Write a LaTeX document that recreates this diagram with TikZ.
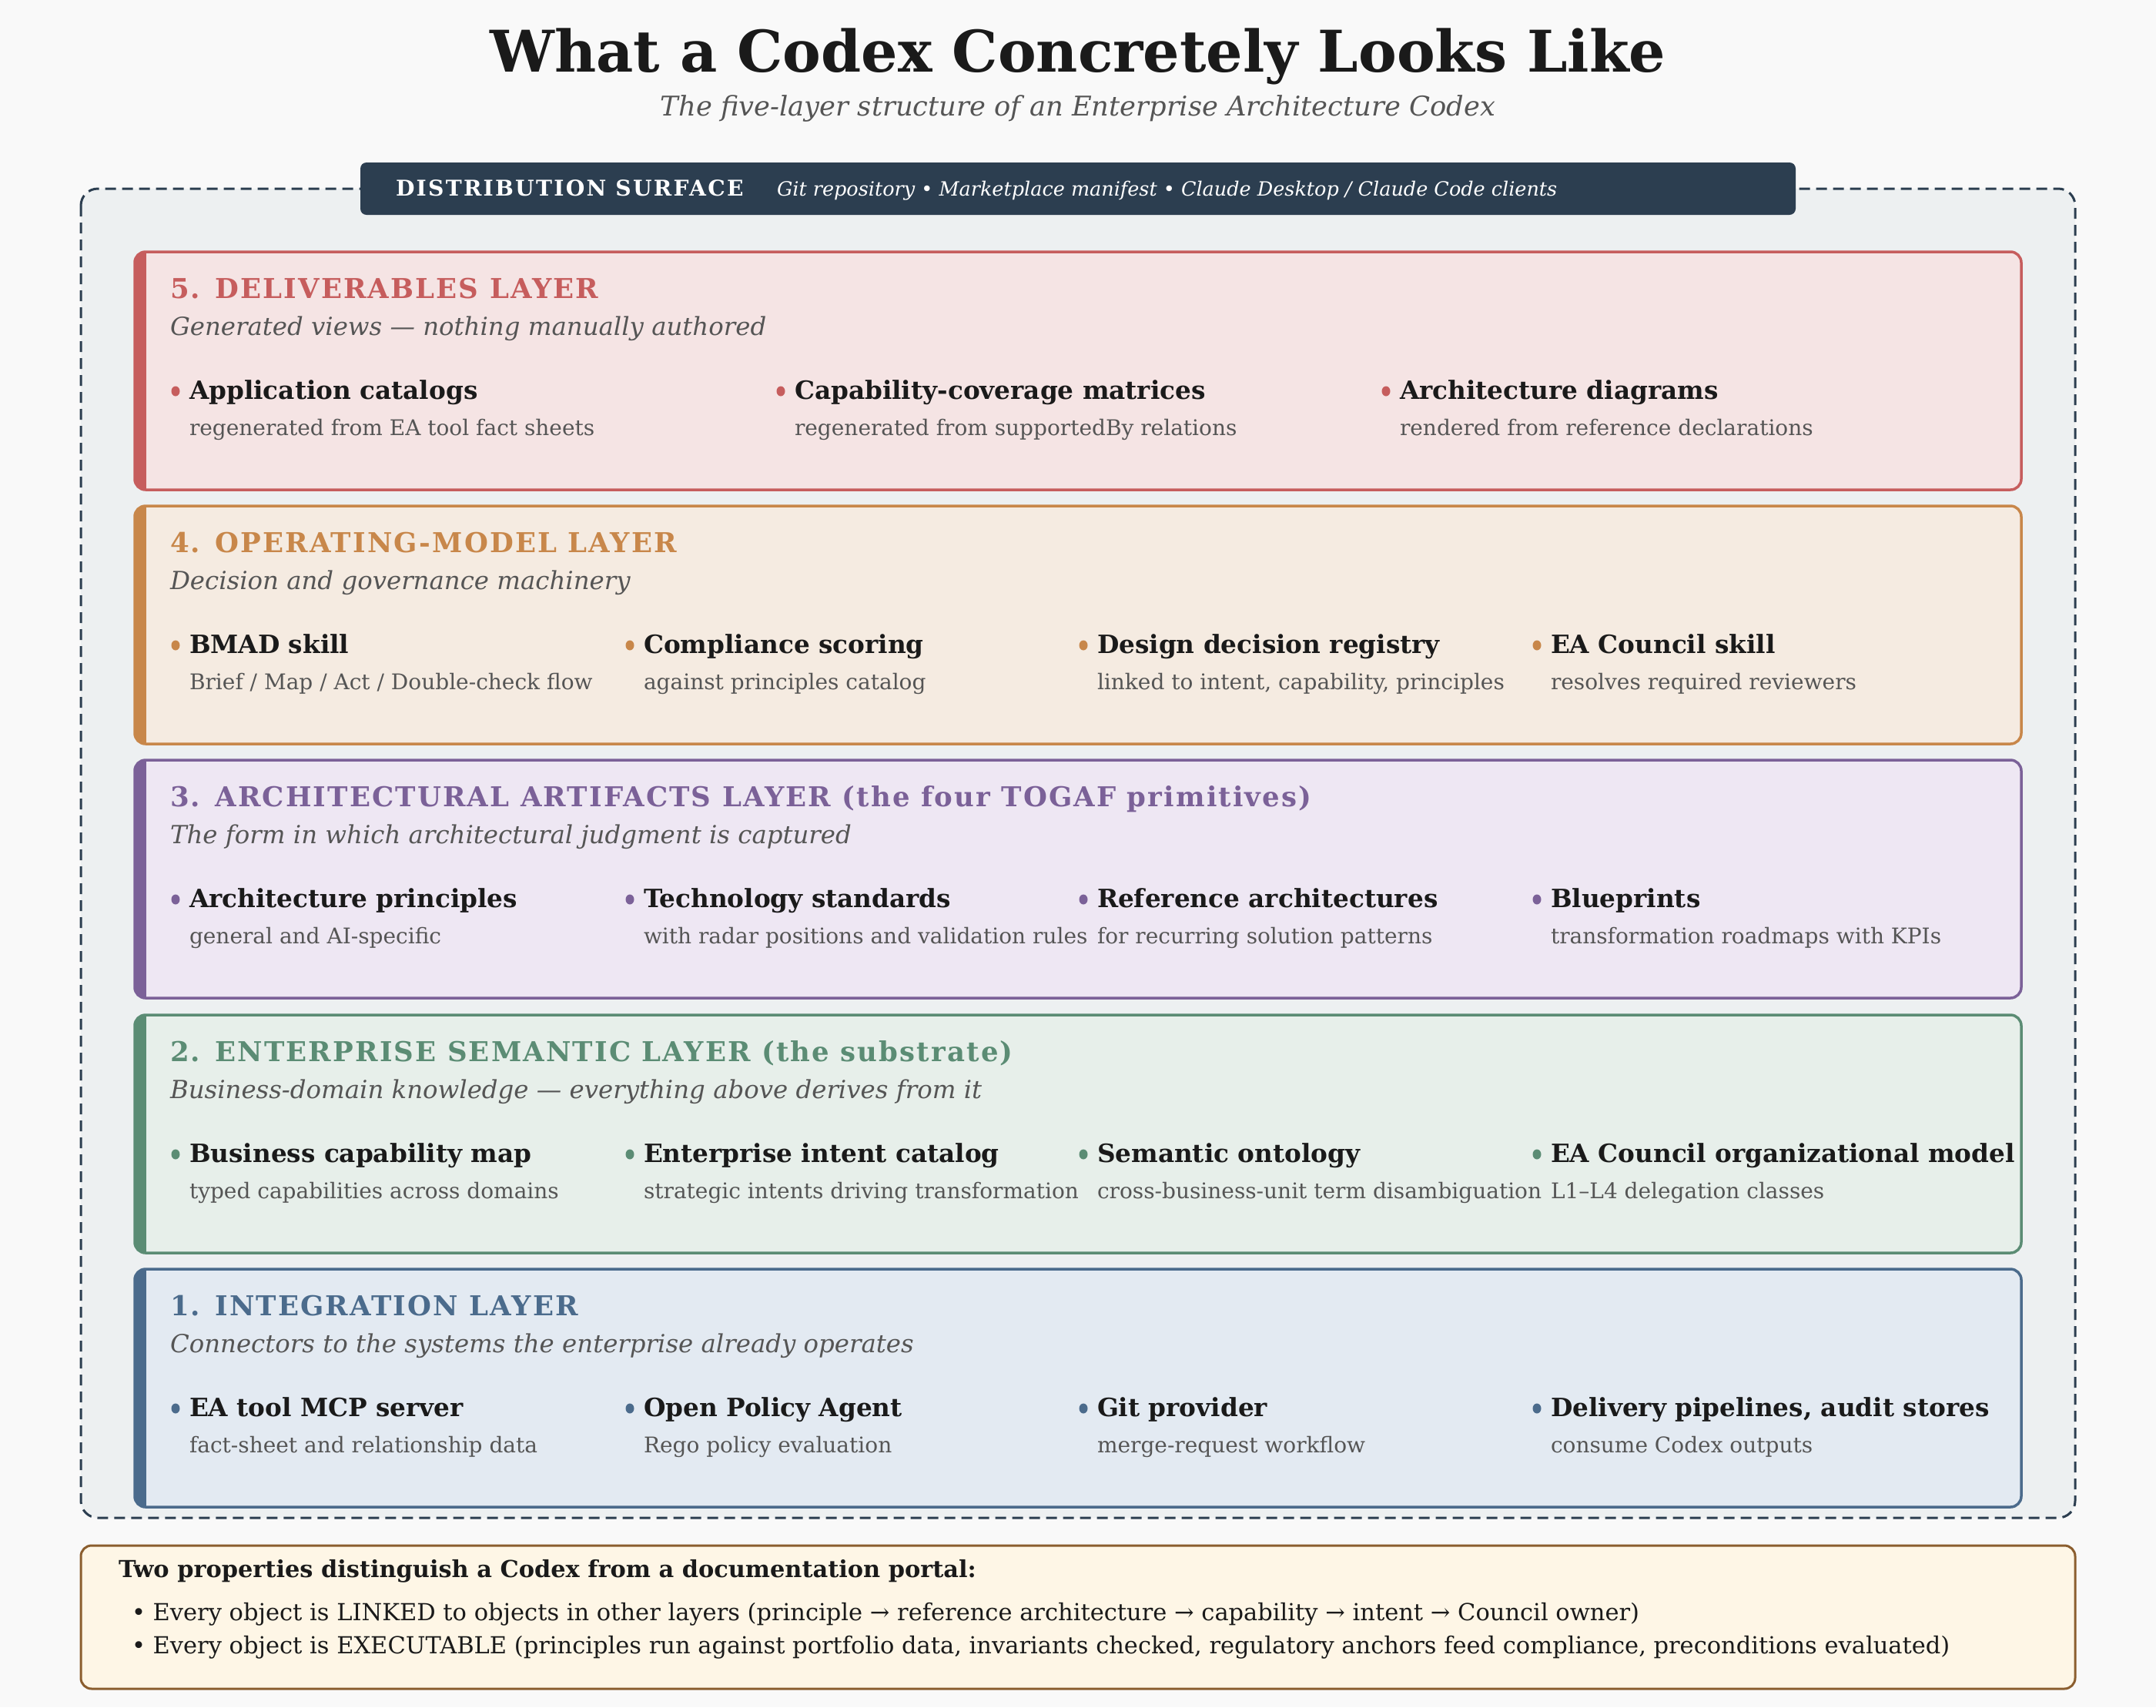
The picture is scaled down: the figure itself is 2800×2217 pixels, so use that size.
\documentclass[tikz,border=0pt]{standalone}
\usepackage{fontspec}
\setmainfont{DejaVu Serif}
\definecolor{bgc}{HTML}{F9F9F9}
\definecolor{outerfill}{HTML}{EDF0F1}
\definecolor{navy}{HTML}{2C3E50}
\definecolor{ink}{HTML}{1A1A1A}
\definecolor{greyt}{HTML}{555555}
\definecolor{cRed}{HTML}{C65D5D}\definecolor{fRed}{HTML}{F5E4E4}
\definecolor{cOra}{HTML}{C8874A}\definecolor{fOra}{HTML}{F5EBE1}
\definecolor{cPur}{HTML}{7B6198}\definecolor{fPur}{HTML}{EEE7F3}
\definecolor{cGrn}{HTML}{5B8C74}\definecolor{fGrn}{HTML}{E7EFEA}
\definecolor{cBlu}{HTML}{4B6B8C}\definecolor{fBlu}{HTML}{E3EAF2}
\definecolor{noteFill}{HTML}{FEF6E6}\definecolor{noteLine}{HTML}{8B5E2F}
\newcommand\mylayer[6]{% name, top, line colour, fill colour, title, subtitle
  \fill[#4] (175,#2) [rounded corners=14] rectangle (2625,#2+309);
  \begin{scope}
    \clip[rounded corners=14] (175,#2) rectangle (2625,#2+309);
    \fill[#3] (175,#2) rectangle (190,#2+309);
  \end{scope}
  \draw[#3, line width=3.5, rounded corners=14] (175,#2) rectangle (2625,#2+309);
  \node[layertitle, text=#3] (#1t) at (221,#2+60) {#5};
  \node[layersub] (#1s) at (221,#2+108) {#6};
}
\newcommand\myitem[6]{% name, x, top, colour, title, desc
  \fill[#4] (#2,#3+181) ellipse (5.5 and 6.5);
  \node[itemname] (#1) at (#2+18,#3+191) {#5};
  \node[itemdesc] (#1d) at (#2+18,#3+238) {#6};
}
\begin{document}
\begin{tikzpicture}[x=1pt,y=-1pt,
  every node/.style={inner sep=0pt, outer sep=0pt},
  layertitle/.style={anchor=base west, font=\fontsize{35.5}{42}\selectfont\bfseries\addfontfeature{LetterSpace=6}},
  layersub/.style={anchor=base west, text=greyt, font=\fontsize{32.4}{38}\selectfont\itshape},
  itemname/.style={anchor=base west, text=ink, font=\fontsize{32.7}{38}\selectfont\bfseries},
  itemdesc/.style={anchor=base west, text=greyt, font=\fontsize{28}{34}\selectfont},
  notetext/.style={anchor=base west, text=ink, font=\fontsize{30.5}{36}\selectfont}]
\fill[bgc] (0,0) rectangle (2800,2217);
\useasboundingbox (0,0) rectangle (2800,2217);
% title
\node[anchor=base, text=ink, font=\fontsize{74.6}{82}\selectfont\bfseries] (title) at (1400,93) {What a Codex Concretely Looks Like};
\node[anchor=base, text=greyt, font=\fontsize{35.3}{42}\selectfont\itshape] (subtitle) at (1400,150) {The five-layer structure of an Enterprise Architecture Codex};
% outer dashed box
\draw[navy, line width=3, dash pattern=on 14 off 8, fill=outerfill, rounded corners=22] (105,245) rectangle (2695,1971);
% distribution bar
\fill[navy, rounded corners=8] (468,211) rectangle (2332,279);
\node[anchor=base west, text=white, font=\fontsize{28.2}{33}\selectfont\bfseries\addfontfeature{LetterSpace=8}] (dist) at (514,254) {DISTRIBUTION SURFACE};
\node[anchor=base west, text=white, font=\fontsize{25.5}{30}\selectfont\itshape] (distd) at (1009,254) {Git repository • Marketplace manifest • Claude Desktop / Claude Code clients};
% layers
\mylayer{L5}{327}{cRed}{fRed}{5. DELIVERABLES LAYER}{Generated views — nothing manually authored}
\myitem{a1}{228}{327}{cRed}{Application catalogs}{regenerated from EA tool fact sheets}
\myitem{a2}{1014}{327}{cRed}{Capability-coverage matrices}{regenerated from supportedBy relations}
\myitem{a3}{1800}{327}{cRed}{Architecture diagrams}{rendered from reference declarations}
\mylayer{L4}{657}{cOra}{fOra}{4. OPERATING-MODEL LAYER}{Decision and governance machinery}
\myitem{b1}{228}{657}{cOra}{BMAD skill}{Brief / Map / Act / Double-check flow}
\myitem{b2}{818}{657}{cOra}{Compliance scoring}{against principles catalog}
\myitem{b3}{1407}{657}{cOra}{Design decision registry}{linked to intent, capability, principles}
\myitem{b4}{1996}{657}{cOra}{EA Council skill}{resolves required reviewers}
\mylayer{L3}{987}{cPur}{fPur}{3. ARCHITECTURAL ARTIFACTS LAYER (the four TOGAF primitives)}{The form in which architectural judgment is captured}
\myitem{c1}{228}{987}{cPur}{Architecture principles}{general and AI-specific}
\myitem{c2}{818}{987}{cPur}{Technology standards}{with radar positions and validation rules}
\myitem{c3}{1407}{987}{cPur}{Reference architectures}{for recurring solution patterns}
\myitem{c4}{1996}{987}{cPur}{Blueprints}{transformation roadmaps with KPIs}
\mylayer{L2}{1318}{cGrn}{fGrn}{2. ENTERPRISE SEMANTIC LAYER (the substrate)}{Business-domain knowledge — everything above derives from it}
\myitem{d1}{228}{1318}{cGrn}{Business capability map}{typed capabilities across domains}
\myitem{d2}{818}{1318}{cGrn}{Enterprise intent catalog}{strategic intents driving transformation}
\myitem{d3}{1407}{1318}{cGrn}{Semantic ontology}{cross-business-unit term disambiguation}
\myitem{d4}{1996}{1318}{cGrn}{EA Council organizational model}{L1–L4 delegation classes}
\mylayer{L1}{1648}{cBlu}{fBlu}{1. INTEGRATION LAYER}{Connectors to the systems the enterprise already operates}
\myitem{e1}{228}{1648}{cBlu}{EA tool MCP server}{fact-sheet and relationship data}
\myitem{e2}{818}{1648}{cBlu}{Open Policy Agent}{Rego policy evaluation}
\myitem{e3}{1407}{1648}{cBlu}{Git provider}{merge-request workflow}
\myitem{e4}{1996}{1648}{cBlu}{Delivery pipelines, audit stores}{consume Codex outputs}
% bottom note
\draw[noteLine, line width=3, fill=noteFill, rounded corners=14] (105,2007) rectangle (2695,2193);
\node[notetext, font=\fontsize{30.4}{36}\selectfont\bfseries] (noteT) at (154,2048) {Two properties distinguish a Codex from a documentation portal:};
\node[notetext] (noteA) at (171,2104) {• Every object is LINKED to objects in other layers (principle → reference architecture → capability → intent → Council owner)};
\node[notetext] (noteB) at (171,2147) {• Every object is EXECUTABLE (principles run against portfolio data, invariants checked, regulatory anchors feed compliance, preconditions evaluated)};
\end{tikzpicture}
\end{document}
